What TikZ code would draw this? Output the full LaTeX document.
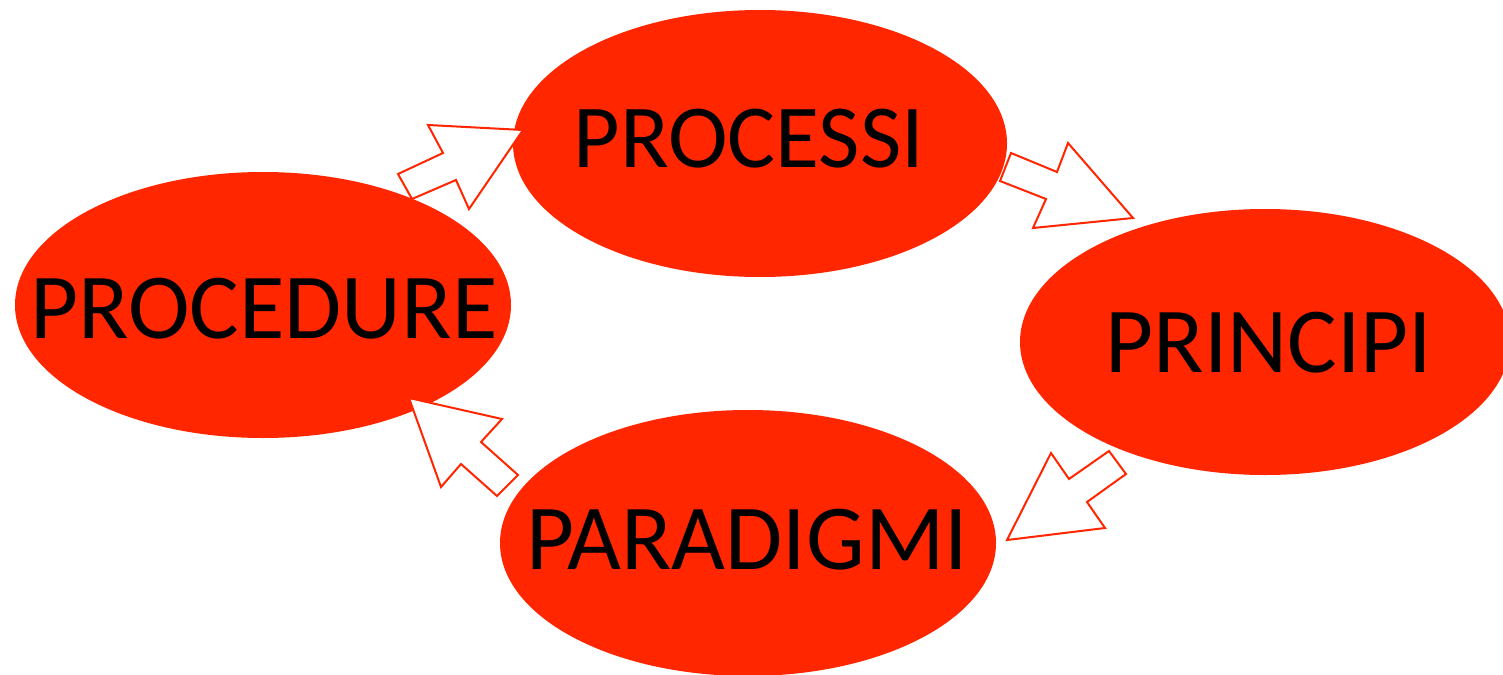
\documentclass[tikz,border=0pt]{standalone}
\usepackage{fontspec}
\setmainfont{Carlito}
\usetikzlibrary{shapes.geometric}
\definecolor{hot}{RGB}{255,38,0}
\tikzset{
  blob/.style={ellipse, fill=hot, draw=none, inner sep=0pt},
  word/.style={font=\fontsize{46.5}{50}\selectfont, text=black, inner sep=0pt},
  blockarrow/.style={draw=hot, fill=white, line width=1pt, line join=miter},
}
\begin{document}
\begin{tikzpicture}[x=0.5pt, y=-0.5pt]
\useasboundingbox (0,0) rectangle (1503,674);
\begin{scope}
\clip (0,0) rectangle (1503,674);
\node[blob, minimum width=248pt, minimum height=133pt] (procedure) at (263,305) {};
\node[blob, minimum width=247pt, minimum height=133.5pt] (processi) at (760,143.5) {};
\node[blob, minimum width=245pt, minimum height=133pt] (principi) at (1265,342) {};
\node[blob, minimum width=248pt, minimum height=133pt] (paradigmi) at (748,543) {};
\end{scope}
\node[word] (tprocedure) at (264,309) {PROCEDURE};
\node[word, font=\fontsize{45}{50}\selectfont] (tprocessi) at (749,139) {PROCESSI};
\node[word] (tprincipi) at (1269,343) {PRINCIPI};
\node[word] (tparadigmi) at (747,540) {PARADIGMI};
% block arrows
\draw[blockarrow] (398,174) -- (443,153) -- (428,125) -- (523,130) -- (469,209) -- (456,180) -- (412,199) -- cycle;
\draw[blockarrow] (1000,181) -- (1011,153) -- (1057,172) -- (1068,143) -- (1133,218) -- (1033,228) -- (1046,199) -- cycle;
\draw[blockarrow] (1109,451) -- (1126,474) -- (1087,502) -- (1105,528) -- (1007,540) -- (1051,453) -- (1069,479) -- cycle;
\draw[blockarrow] (409,398) -- (502,419) -- (481,442) -- (518,475) -- (497,496) -- (461,464) -- (441,487) -- cycle;
\end{tikzpicture}
\end{document}
